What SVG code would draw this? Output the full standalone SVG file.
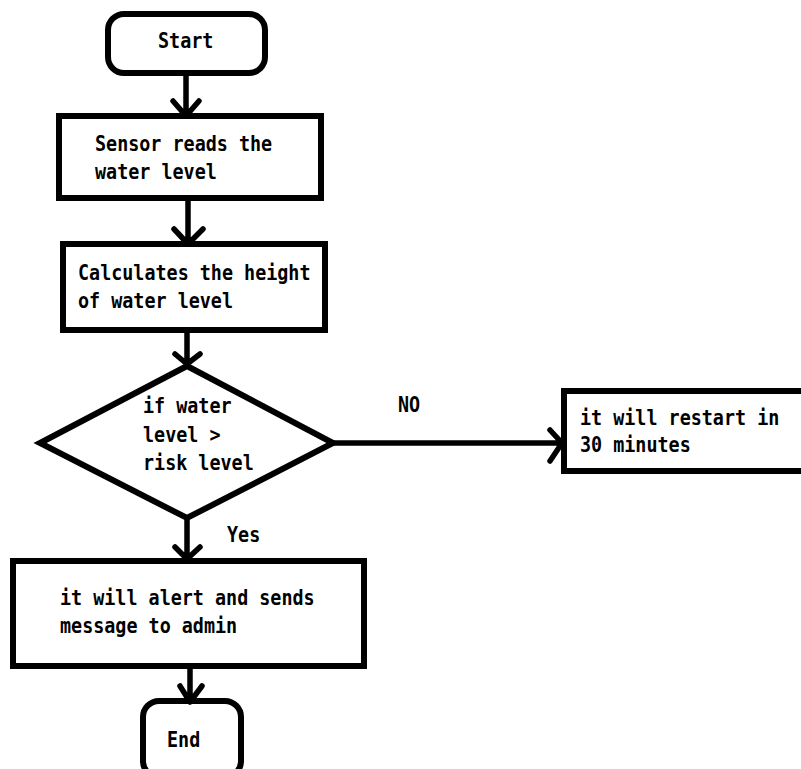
<svg xmlns="http://www.w3.org/2000/svg" width="801" height="769" viewBox="0 0 801 769">
<style>
.shape{fill:#fff;stroke:#000;stroke-width:6}
.conn{fill:none;stroke:#000;stroke-width:5.5;stroke-linecap:round;stroke-linejoin:round}
.t{font-family:"DejaVu Sans Mono","Liberation Mono",monospace;font-size:18.4px;font-weight:bold;fill:#000}
</style>
<rect width="801" height="769" fill="#fff"/>
<g id="start">
<rect class="shape" x="108" y="14" width="157" height="59" rx="16"/>
<text class="t" transform="translate(158,48) scale(1,1.2)">Start</text>
</g>
<g id="sensor">
<rect class="shape" x="59" y="116" width="262" height="82"/>
<text class="t" transform="translate(95,151) scale(1,1.2)">Sensor reads the</text>
<text class="t" transform="translate(95,179) scale(1,1.2)">water level</text>
</g>
<g id="calc">
<rect class="shape" x="63" y="244" width="262" height="86"/>
<text class="t" transform="translate(78,280) scale(1,1.2)">Calculates the height</text>
<text class="t" transform="translate(78,308) scale(1,1.2)">of water level</text>
</g>
<g id="decision">
<polygon class="shape" points="187,366 333,443 187,518 40,443"/>
<text class="t" transform="translate(143,413) scale(1,1.2)">if water</text>
<text class="t" transform="translate(143,442) scale(1,1.2)">level &gt;</text>
<text class="t" transform="translate(143,470) scale(1,1.2)">risk level</text>
</g>
<g id="restart">
<rect class="shape" x="564" y="391" width="240" height="80"/>
<text class="t" transform="translate(580,425) scale(1,1.2)">it will restart in</text>
<text class="t" transform="translate(580,452) scale(1,1.2)">30 minutes</text>
</g>
<g id="alert">
<rect class="shape" x="13" y="561" width="351" height="105"/>
<text class="t" transform="translate(60,605) scale(1,1.2)">it will alert and sends</text>
<text class="t" transform="translate(60,633) scale(1,1.2)">message to admin</text>
</g>
<g id="end">
<rect class="shape" x="143" y="701" width="98" height="76" rx="16"/>
<text class="t" transform="translate(167,747) scale(1,1.2)">End</text>
</g>
<g id="connectors">
<path class="conn" d="M186,74 V116 M173,101 L186,116 L199,101"/>
<path class="conn" d="M188,199 V244 M174,229 L188,244 L203,229"/>
<path class="conn" d="M187,331 V364 M175,354 L187,364 L200,354"/>
<path class="conn" d="M333,443 H562 M550,430 L562,443 L550,461"/>
<path class="conn" d="M187,518 V559 M175,547 L187,559 L200,547"/>
<path class="conn" d="M190,667 V702 M180,686 L190,702 L202,686"/>
<text class="t" transform="translate(398,412) scale(1,1.2)">NO</text>
<text class="t" transform="translate(227,542) scale(1,1.2)">Yes</text>
</g>
</svg>
